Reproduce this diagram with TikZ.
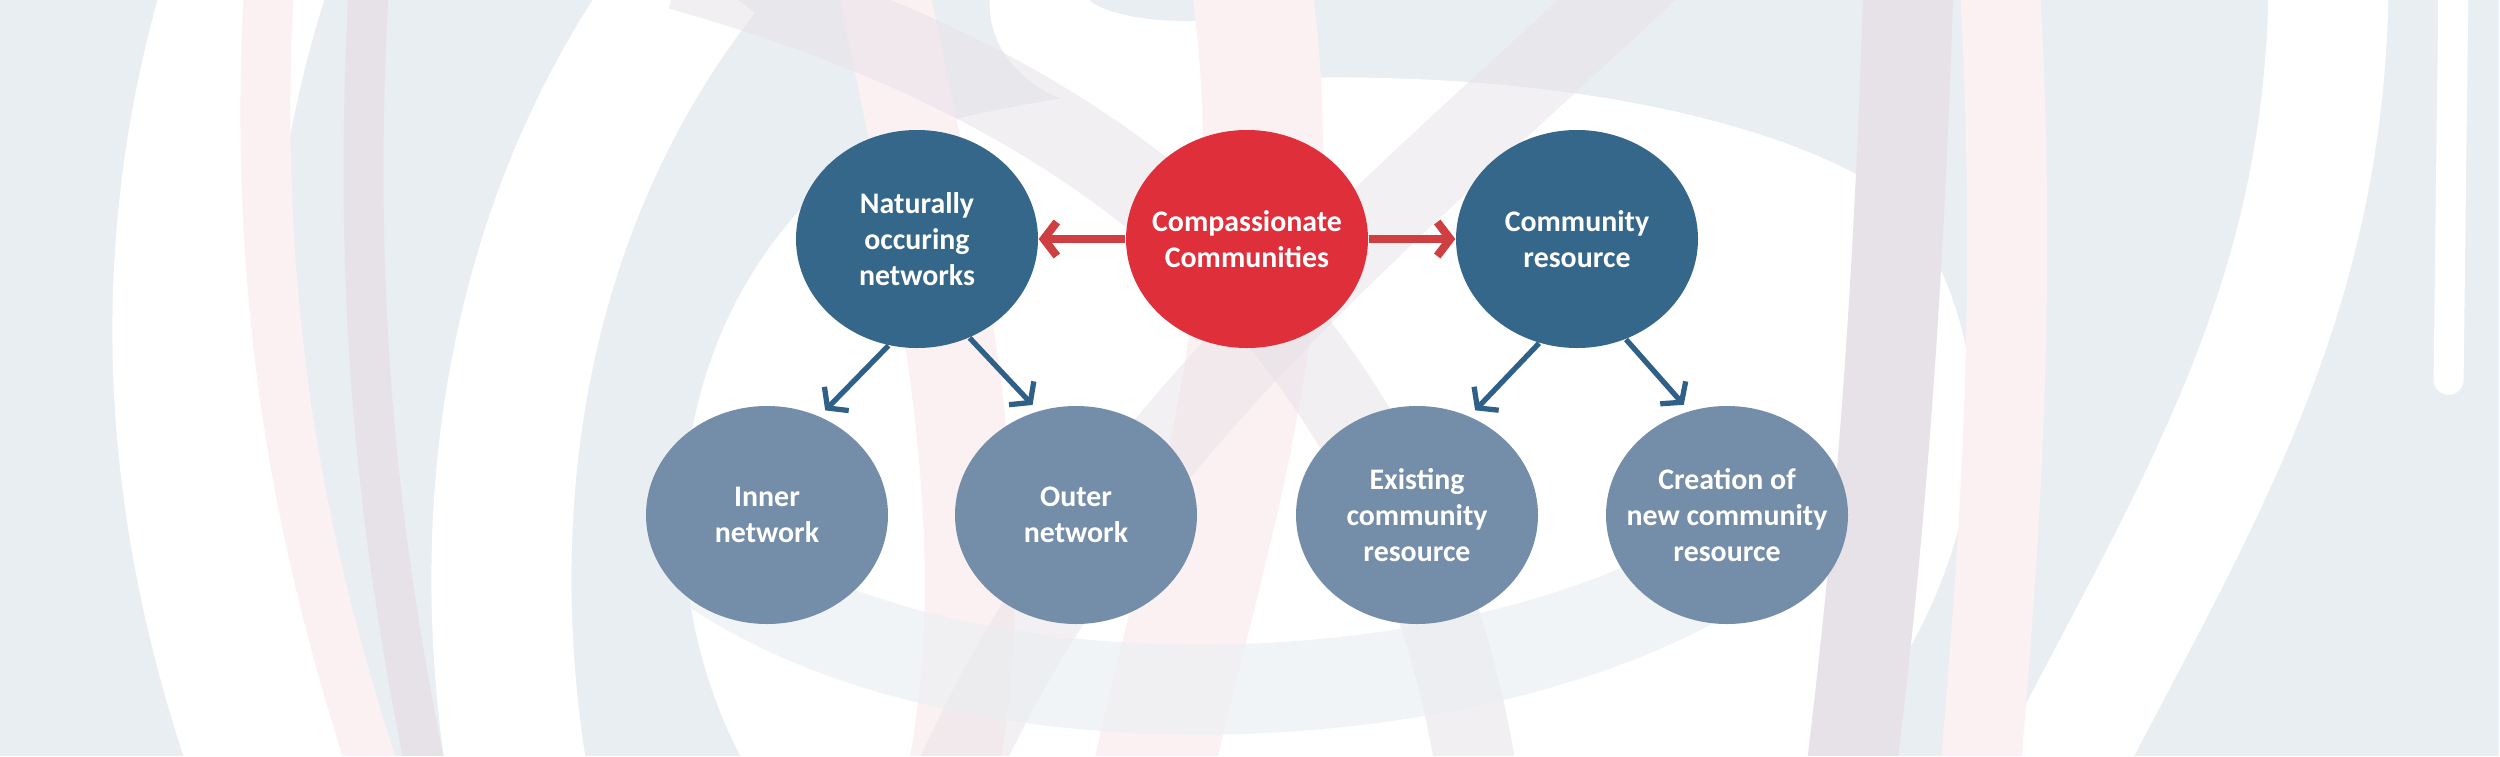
\documentclass[tikz,border=0pt]{standalone}
\usepackage{fontspec}
\setmainfont{Carlito}
\usetikzlibrary{positioning,shapes.geometric,arrows.meta}

\definecolor{bgblue}{HTML}{E9EEF2}
\definecolor{bgmauve}{HTML}{E7E2E8}
\definecolor{bgpink}{HTML}{FCF1F2}
\definecolor{darkblob}{HTML}{35678A}
\definecolor{lightblob}{HTML}{748DA9}
\definecolor{redblob}{HTML}{DE2F3B}
\definecolor{redline}{HTML}{CF3E40}
\definecolor{blueline}{HTML}{2F6087}

\begin{document}
\begin{tikzpicture}[node distance=3.3cm, >={Straight Barb[length=0.13cm,width=0.34cm]},
    blob/.style={ellipse, inner xsep=-0.3cm, inner ysep=0pt, minimum width=2.42cm,
        minimum height=2.18cm, text=white, align=center,
        font=\fontsize{8.5}{10.2}\selectfont\bfseries},
    upper/.style={blob, fill=darkblob},
    lower/.style={blob, fill=lightblob}]

    \useasboundingbox (0,0) rectangle (25,-7.56);

    % background swirls
    \begin{scope}[x=0.01cm, y=-0.01cm]
    \clip (0,0) rectangle (2500,756);
    \fill[bgblue] (0,0) rectangle (2500,756);
    \draw[white, line width=1.6cm] (250,-30) .. controls (160,250) and (180,520) .. (280,790);
    \draw[white, line width=1.4cm] (700,-30) .. controls (520,200) and (470,500) .. (520,790);
    \fill[white] (880,140) .. controls (1200,40) and (1700,60) .. (1900,200)
        .. controls (2050,400) and (1950,650) .. (1800,790) -- (760,790)
        .. controls (640,600) and (650,300) .. cycle;
    \draw[white, line width=1.2cm] (2050,790) .. controls (2200,500) and (2330,300) .. (2330,-30);
    \draw[white, line width=0.3cm, line cap=round] (2455,-30) -- (2450,380);
    \draw[white, line width=1cm] (1050,-30) .. controls (1000,60) and (1150,90) .. (1300,60);
    \draw[bgpink, line width=0.5cm] (270,-30) .. controls (250,300) and (300,550) .. (380,790);
    \draw[bgpink, line width=1.2cm] (1250,-30) .. controls (1300,300) and (1200,550) .. (1150,790);
    \draw[bgpink, line width=0.8cm] (2000,-30) .. controls (2020,300) and (2000,550) .. (1980,790);
    \draw[bgpink, line width=0.9cm] (880,-30) .. controls (950,300) and (1000,550) .. (950,790);
    \draw[bgmauve, line width=0.4cm] (370,-30) .. controls (350,300) and (380,550) .. (430,790);
    \draw[bgmauve, line width=0.9cm] (1910,-30) .. controls (1900,300) and (1880,550) .. (1850,790);
    \draw[bgmauve, line width=0.8cm, opacity=0.55] (680,-30) .. controls (1000,60) and (1400,250) .. (1480,790);
    \draw[bgmauve, line width=0.8cm, opacity=0.5] (1650,-30) .. controls (1350,250) and (1100,450) .. (950,790);
    \draw[bgblue, line width=0.9cm, opacity=0.6] (700,560) .. controls (950,740) and (1450,720) .. (1700,580);
    \end{scope}

    \node (cc) [blob, fill=redblob] at (12.47,-2.39) {Compassionate\\Communities};
    \node (nat) [upper, left of=cc] {Naturally\\occuring\\networks};
    \node (comm) [upper, right of=cc] {Community\\resource};
    \node (inner) [lower, node distance=2.76cm, below of=nat, xshift=-1.5cm] {Inner\\network};
    \node (outer) [lower, node distance=2.76cm, below of=nat, xshift=1.59cm] {Outer\\network};
    \node (exist) [lower, node distance=2.76cm, below of=comm, xshift=-1.6cm] {Existing\\community\\resource};
    \node (create) [lower, node distance=2.76cm, below of=comm, xshift=1.5cm] {Creation of\\new community\\resource};

    \path[->, redline, line width=2.3pt] (cc) edge (nat)
              (cc) edge (comm);

    \path[->, blueline, line width=1.5pt, shorten >=0.08cm] (nat.255) edge (inner.62)
              (nat.298) edge (outer.110)
              (comm.250) edge (exist.62)
              (comm.296) edge (create.110);

\end{tikzpicture}
\end{document}
